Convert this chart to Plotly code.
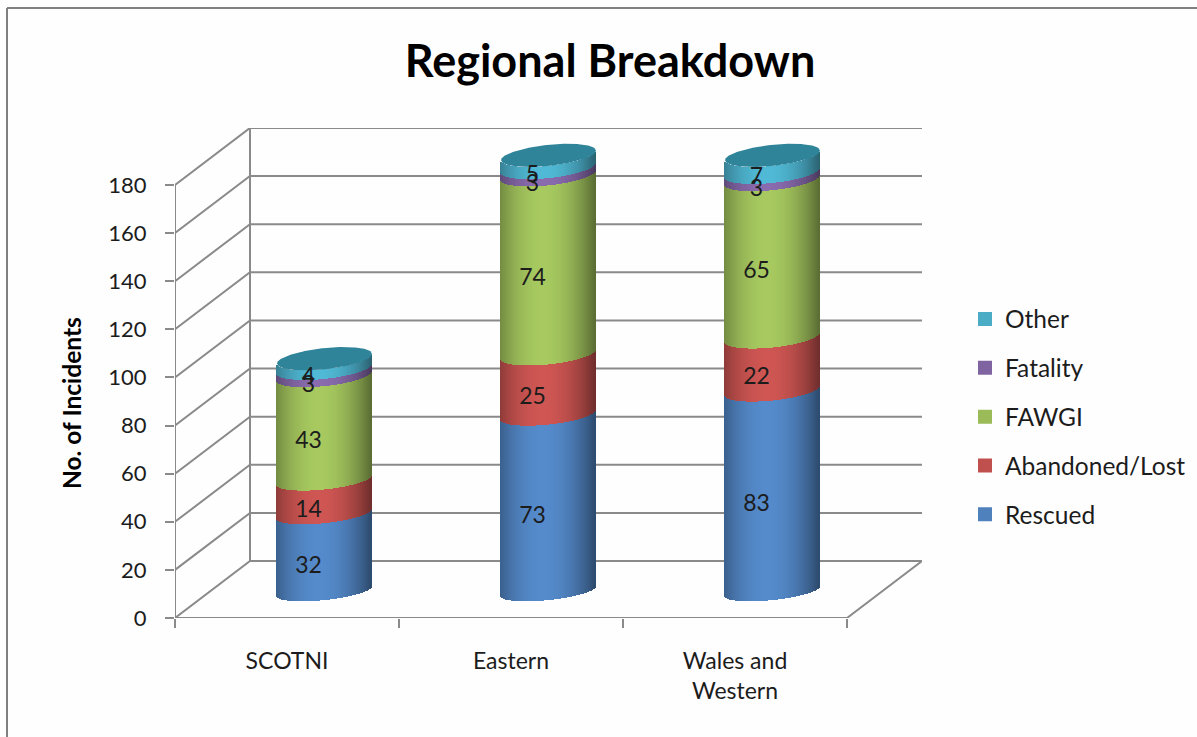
import numpy as np
import plotly.graph_objects as go

categories = ["SCOTNI", "Eastern", "Wales and<br>Western"]
series_names = ["Rescued", "Abandoned/Lost", "FAWGI", "Fatality", "Other"]
rescued = [32, 73, 83]
abandoned = [14, 25, 22]
fawgi = [43, 74, 65]
fatality = [3, 3, 3]
other = [4, 5, 7]
y_ticks = list(range(0, 181, 20))
colors = ["#4F81BD", "#C0504D", "#9BBB59", "#8064A2", "#4BACC6"]
values = [rescued, abandoned, fawgi, fatality, other]

W, H = 1197, 737
L, R, T, B = 175, 922, 128, 618
PX_X = 224.0
PX_Y = 2.406
GREY = "#8A8A8A"
TEXT = "#1c1c1c"
FONT = "Lato"

dx = 75 / PX_X
dy = 57 / PX_Y
x_min, x_max = -0.5, 2.5 + dx
y_max = (B - T) / PX_Y
D, S = 11.2, 1.006
RAD = 47.5 / PX_X
N = 95


def curve(v, u, sign=-1):
    k = 4.8 / PX_Y
    b = (9 + 1.6 * min(v / 96, 1)) / PX_Y
    return D + S * v + k * u + sign * b * np.sqrt(np.clip(1 - u ** 2, 0, 1))


def shade(hex_col, u):
    rgb = np.array([int(hex_col[i:i + 2], 16) for i in (1, 3, 5)], float)
    f = np.clip(1 - ((u + 0.1) / 1.1) ** 2, 0, 1)
    c = rgb * (0.58 + (1.08 - 0.58) * f)
    c = np.clip(c, 0, 255).astype(int)
    return f"rgb({c[0]},{c[1]},{c[2]})"


fig = go.Figure()

# 3-D wall, floor, axis lines
lx, ly = [x_min, x_min, None], [0, 180, None]
for t in y_ticks:
    if t == 0:
        continue
    lx += [x_min, x_min + dx, x_max, None]
    ly += [t, t + dy, t + dy, None]
lx += [x_min, 2.5, x_max, x_min + dx, x_min, None, x_min + dx, x_min + dx]
ly += [0, 0, dy, dy, 0, None, dy, 180 + dy]
fig.add_trace(go.Scatter(x=lx, y=ly, mode="lines", line=dict(color=GREY, width=2),
                         cliponaxis=False, hoverinfo="skip", showlegend=False,
                         xaxis="x", yaxis="y"))

# Cylinders: stacked segments drawn as thin shaded bars
us = (np.arange(N) + 0.5) / N * 2 - 1
cum = np.zeros(len(categories))
for name, vals, col in zip(series_names, values, colors):
    xs, bases, heights, cols = [], [], [], []
    for c in range(len(categories)):
        cx = c + dx / 2
        low = curve(cum[c], us)
        high = curve(cum[c] + vals[c], us)
        xs += list(cx + us * RAD)
        bases += list(low)
        heights += list(high - low)
        cols += [shade(col, u) for u in us]
    fig.add_trace(go.Bar(x=xs, y=heights, base=bases, width=2.4 * RAD / N,
                         marker=dict(color=cols, line=dict(width=0)), name=name,
                         hoverinfo="skip", showlegend=False, xaxis="x2", yaxis="y"))
    cum = cum + np.array(vals)

# Cylinder tops
ut = np.linspace(-1, 1, 121)
for c in range(len(categories)):
    cx = c + dx / 2
    px = list(cx + ut * RAD) + list(cx + ut[::-1] * RAD)
    py = list(curve(cum[c], ut, -1)) + list(curve(cum[c], ut[::-1], 1))
    fig.add_trace(go.Scatter(x=px, y=py, mode="lines", fill="toself", fillcolor="#2F8499",
                             line=dict(width=0, color="#2F8499"), hoverinfo="skip",
                             showlegend=False, xaxis="x2", yaxis="y"))

# Data labels
cum = np.zeros(len(categories))
for name, vals in zip(series_names, values):
    mids = cum + np.array(vals) / 2
    fig.add_trace(go.Scatter(x=[c + dx / 2 - 16 / PX_X for c in range(len(categories))],
                             y=D + S * mids - 14.5 / PX_Y,
                             mode="text", text=[str(v) for v in vals],
                             textposition="middle center", cliponaxis=False,
                             textfont=dict(family=FONT, size=23, color=TEXT),
                             hoverinfo="skip", showlegend=False, xaxis="x2", yaxis="y"))
    cum = cum + np.array(vals)

# Legend entries (top to bottom)
for name, col in reversed(list(zip(series_names, colors))):
    fig.add_trace(go.Scatter(x=[None], y=[None], mode="markers", name=name, legendgroup=name,
                             marker=dict(symbol="square", size=14, color=col),
                             xaxis="x", yaxis="y"))

pw, ph = R - L, B - T
fig.update_layout(
    width=W, height=H, autosize=False,
    margin=dict(l=L, r=W - R, t=T, b=H - B, pad=0, autoexpand=False),
    paper_bgcolor="#FEFEFE", plot_bgcolor="rgba(0,0,0,0)",
    barmode="overlay", bargap=0,
    font=dict(family=FONT, size=23, color=TEXT),
    title=dict(text="<b>Regional Breakdown</b>", xref="container", yref="container",
               x=610 / W, xanchor="center", y=1 - 61 / H, yanchor="middle",
               font=dict(family=FONT, size=45, color="#000000")),
    xaxis=dict(range=[x_min, x_max], domain=[0, 1], showgrid=False, zeroline=False,
               showline=False, tickmode="array", tickvals=[-0.5, 0.5, 1.5, 2.5],
               ticks="outside", ticklen=9, tickwidth=2, tickcolor=GREY, showticklabels=False),
    xaxis2=dict(range=[x_min, x_max], domain=[0, 1], overlaying="x", anchor="y", side="bottom",
                showgrid=False, zeroline=False, showline=False, tickmode="array",
                tickvals=[0, 1, 2], ticktext=categories, ticks="",
                ticklabelstandoff=27, tickfont=dict(family=FONT, size=23, color=TEXT)),
    yaxis=dict(range=[0, y_max], domain=[0, 1], showgrid=False, zeroline=False, showline=False,
               tickmode="array", tickvals=y_ticks, ticks="outside", ticklen=9, tickwidth=2,
               tickcolor=GREY, ticklabelstandoff=14,
               tickfont=dict(family=FONT, size=22, color=TEXT)),
    annotations=[dict(text="<b>No. of Incidents</b>", xref="paper", yref="paper",
                      x=(71 - L) / pw, y=(B - 403) / ph, xanchor="center", yanchor="middle",
                      textangle=-90, showarrow=False,
                      font=dict(family=FONT, size=24.5, color="#000000"))],
    legend=dict(x=(965 - L) / pw, xanchor="left", y=(B - 417) / ph, yanchor="middle",
                traceorder="grouped", tracegroupgap=14,
                font=dict(family=FONT, size=24.5, color=TEXT), bgcolor="rgba(0,0,0,0)"),
    shapes=[dict(type="line", xref="paper", yref="paper", x0=(7 - L) / pw, x1=(7 - L) / pw,
                 y0=(B - 8) / ph, y1=(B - H) / ph, line=dict(color="#808080", width=2)),
            dict(type="line", xref="paper", yref="paper", x0=(7 - L) / pw, x1=(W - L) / pw,
                 y0=(B - 8) / ph, y1=(B - 8) / ph, line=dict(color="#808080", width=2))],
)

fig.write_html("out.html", config=dict(displayModeBar=False),
               post_script="document.body.style.margin='0';")
